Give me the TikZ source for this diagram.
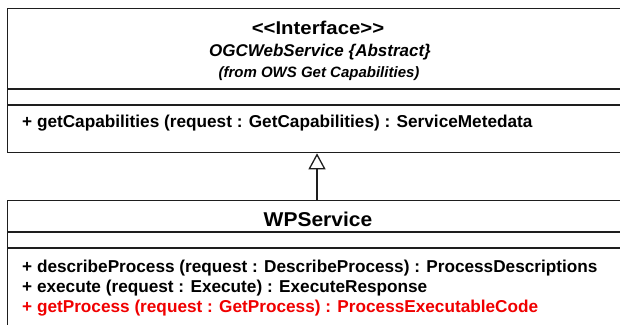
\documentclass[tikz,border=0pt]{standalone}
\usepackage{fontspec}
\setmainfont{Liberation Sans}
\usepackage{graphicx}
\usetikzlibrary{arrows.meta}
\newcommand{\hs}[2]{\scalebox{#1}[1]{#2}}
\definecolor{umlred}{RGB}{240,0,0}
\definecolor{umlline}{RGB}{30,30,30}
\begin{document}
\begin{tikzpicture}[x=1pt,y=-1pt,
  umlbox/.style={draw=umlline, line width=1.3pt, inner sep=0pt, anchor=north west},
  sep/.style={draw=umlline, line width=1.3pt},
  txt/.style={inner sep=0pt, anchor=base west, font=\fontsize{17.2}{20}\selectfont\bfseries},
  head/.style={inner sep=0pt, anchor=base},
  gen/.style={draw=umlline, line width=1.3pt, -{Triangle[open, length=16pt, width=17pt, line width=1.3pt]}}
]
\useasboundingbox (0,0) rectangle (620,324);
\clip (0,0) rectangle (620,324);
% interface box
\node[umlbox, minimum width=630pt, minimum height=144pt] (ogc) at (7,8) {};
\coordinate (ogcA) at (0,89);
\coordinate (ogcB) at (0,105);
\draw[sep] (ogc.west |- ogcA) -- (ogc.east |- ogcA);
\draw[sep] (ogc.west |- ogcB) -- (ogc.east |- ogcB);
\node[head, font=\fontsize{18.5}{21}\selectfont\bfseries] (st) at (318,34) {\hs{1.1}{<{}<Interface>{}>}};
\node[head, font=\fontsize{17}{20}\selectfont\bfseries\itshape] (nm) at (320,56) {OGCWebService \{Abstract\}};
\node[head, font=\fontsize{15}{18}\selectfont\bfseries\itshape] (fr) at (319,77) {(from OWS Get Capabilities)};
\node[txt] (m0) at (22,127) {+ getCapabilities (request : GetCapabilities) : ServiceMetedata};
% WPService box
\node[umlbox, minimum width=630pt, minimum height=140pt] (wps) at (7,200) {};
\coordinate (wpsA) at (0,232);
\coordinate (wpsB) at (0,248);
\draw[sep] (wps.west |- wpsA) -- (wps.east |- wpsA);
\draw[sep] (wps.west |- wpsB) -- (wps.east |- wpsB);
\node[head, font=\fontsize{20}{23}\selectfont\bfseries] (wn) at (318,226) {\hs{1.05}{WPService}};
\node[txt] (m1) at (22,272) {+ describeProcess (request : DescribeProcess) : ProcessDescriptions};
\node[txt] (m2) at (22,292) {+ execute (request : Execute) : ExecuteResponse};
\node[txt, text=umlred] (m3) at (22,312) {+ getProcess (request : GetProcess) : ProcessExecutableCode};
% generalization
\coordinate (ax) at (317,0);
\draw[gen] (wps.north -| ax) -- (ogc.south -| ax);
\end{tikzpicture}
\end{document}
